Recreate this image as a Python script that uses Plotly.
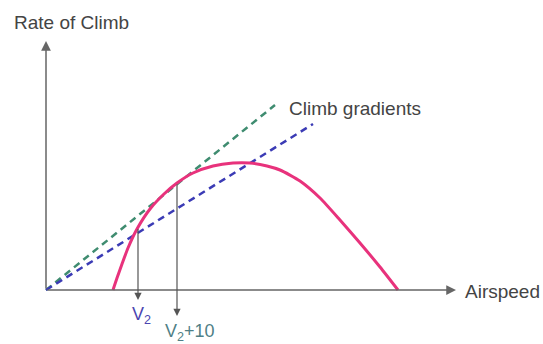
import numpy as np
import plotly.graph_objects as go

# Rate-of-climb curve (schematic units: x = airspeed, y = rate of climb)
airspeed = [67, 71, 76, 82, 91, 104, 118, 131, 147, 167, 187, 204, 221, 234, 254, 274, 294, 314, 334, 352]
roc = [0, 12, 26, 42, 61, 81, 96, 107, 117, 124, 127, 127, 124, 120, 109, 92, 70, 47, 23, 0]

# Climb gradient lines from origin
grad_green_end = (229, 185)
grad_blue_end = (267, 166)

# speeds marked below the axis
v2 = 92
v2_10 = 131

fig = go.Figure()

fig.add_trace(go.Scatter(x=[0, grad_green_end[0]], y=[0, grad_green_end[1]], mode="lines",
                         line=dict(color="#3f8c70", width=2.5, dash="7px,5px"), hoverinfo="skip"))
fig.add_trace(go.Scatter(x=[0, grad_blue_end[0]], y=[0, grad_blue_end[1]], mode="lines",
                         line=dict(color="#3b3bb5", width=2.5, dash="7px,5px"), hoverinfo="skip"))
fig.add_trace(go.Scatter(x=airspeed, y=roc, mode="lines",
                         line=dict(color="#e8327c", width=3, shape="spline", smoothing=0.6),
                         hoverinfo="skip"))

arrow_color = "#666666"
# axes with arrowheads
fig.add_annotation(x=410, y=0, ax=0, ay=0, axref="x", ayref="y", xref="x", yref="y", text="",
                   showarrow=True, arrowhead=2, arrowsize=1.3, arrowwidth=1.5, arrowcolor=arrow_color)
fig.add_annotation(x=0, y=249, ax=0, ay=0, axref="x", ayref="y", xref="x", yref="y", text="",
                   showarrow=True, arrowhead=2, arrowsize=1.3, arrowwidth=1.5, arrowcolor=arrow_color)

# V2 and V2+10 drop lines
for v, tip in [(v2, -10), (v2_10, -26)]:
    y0 = float(np.interp(v, airspeed, roc))
    fig.add_annotation(x=v, y=tip, ax=v, ay=y0, axref="x", ayref="y", xref="x", yref="y", text="",
                       showarrow=True, arrowhead=2, arrowsize=1.2, arrowwidth=1.2, arrowcolor="#555555")

font = dict(family="Liberation Sans, Arial, sans-serif", size=19, color="#444444")
fig.add_annotation(x=-34, y=268, text="Rate of Climb", showarrow=False, xanchor="left", font=font)
fig.add_annotation(x=241, y=182, text="Climb gradients", showarrow=False, xanchor="left", font=font)
fig.add_annotation(x=417, y=-1, text="Airspeed", showarrow=False, xanchor="left", font=font)
fig.add_annotation(x=84, y=-25, text="V<sub>2</sub>", showarrow=False, xanchor="left",
                   font=dict(family="Liberation Sans, Arial, sans-serif", size=18, color="#4a45b0"))
fig.add_annotation(x=117, y=-42, text="V<sub>2</sub>+10", showarrow=False, xanchor="left",
                   font=dict(family="Liberation Sans, Arial, sans-serif", size=18, color="#4f7f86"))

fig.update_xaxes(range=[-46, 497], visible=False, fixedrange=True)
fig.update_yaxes(range=[-54, 290], visible=False, fixedrange=True)
fig.update_layout(width=543, height=344, margin=dict(l=0, r=0, t=0, b=0), showlegend=False,
                  plot_bgcolor="white", paper_bgcolor="white")

fig.write_html("out.html", config={"displayModeBar": False},
               post_script="document.body.style.margin='0';")
